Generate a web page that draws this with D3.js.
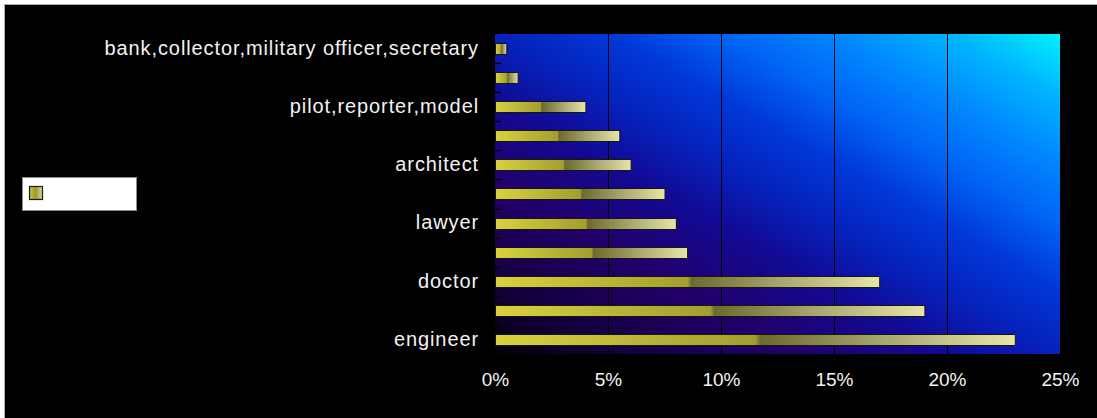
<!DOCTYPE html>
<html>
<head>
<meta charset="utf-8">
<script src="https://cdn.jsdelivr.net/npm/d3@7"></script>
<style>
  html, body { margin: 0; padding: 0; background: #ffffff; }
  svg { display: block; }
  text { font-family: "Liberation Sans", Arial, sans-serif; }
</style>
</head>
<body>
<script>
// Occupation categories, top to bottom (only every other one carries a label)
const categories = [
  "bank,collector,military officer,secretary",
  "",
  "pilot,reporter,model",
  "",
  "architect",
  "",
  "lawyer",
  "",
  "doctor",
  "",
  "engineer"
];
// Share of answers per category, in percent
const shares = [0.5, 1.0, 4.0, 5.5, 6.0, 7.5, 8.0, 8.5, 17.0, 19.0, 23.0];
// Value axis ticks, in percent
const xTicks = [0, 5, 10, 15, 20, 25];

const W = 1097, H = 418;
const plot = { left: 495, right: 1060, top: 34, bottom: 354 };

const svg = d3.select("body").append("svg")
  .attr("width", W).attr("height", H);

const defs = svg.append("defs");

// Diagonal backdrop: dark violet in the lower left to cyan in the upper right
const bg = defs.append("linearGradient")
  .attr("id", "plotBg")
  .attr("x1", 0).attr("y1", 1).attr("x2", 1).attr("y2", 0);
[
  [0.00, "#030008"],
  [0.12, "#140040"],
  [0.27, "#22006c"],
  [0.40, "#120a94"],
  [0.50, "#0622bc"],
  [0.60, "#0038d8"],
  [0.70, "#0064f4"],
  [0.80, "#0088ff"],
  [0.90, "#00b4ff"],
  [1.00, "#00f2ff"]
].forEach(([o, c]) => bg.append("stop").attr("offset", o).attr("stop-color", c));

// Bar fill: bright yellow fading to olive, a dark step at the middle, then cream
const barGrad = defs.append("linearGradient")
  .attr("id", "barFill")
  .attr("x1", 0).attr("y1", 0).attr("x2", 1).attr("y2", 0);
[
  [0.00, "#d8d23e"],
  [0.50, "#a49e30"],
  [0.51, "#6c6a2c"],
  [0.75, "#aaa770"],
  [1.00, "#e8e5a8"]
].forEach(([o, c]) => barGrad.append("stop").attr("offset", o).attr("stop-color", c));

// Legend swatch fill
const swGrad = defs.append("linearGradient")
  .attr("id", "swatchFill")
  .attr("x1", 0).attr("y1", 0).attr("x2", 1).attr("y2", 0);
[
  [0.00, "#c8c23a"],
  [0.50, "#a09a30"],
  [1.00, "#e0dc9c"]
].forEach(([o, c]) => swGrad.append("stop").attr("offset", o).attr("stop-color", c));

// Chart area: black with a thin grey frame
svg.append("rect")
  .attr("x", 4.5).attr("y", 4.5)
  .attr("width", W + 10).attr("height", H + 10)
  .attr("fill", "#000000")
  .attr("stroke", "#a8a8a8").attr("stroke-width", 1);

const x = d3.scaleLinear().domain([0, 25]).range([plot.left, plot.right]);
const y = d3.scaleBand()
  .domain(d3.range(categories.length))
  .range([plot.top, plot.bottom])
  .paddingInner(0.62)
  .paddingOuter(0.31);

// Plot backdrop
svg.append("rect")
  .attr("x", plot.left).attr("y", plot.top)
  .attr("width", plot.right - plot.left).attr("height", plot.bottom - plot.top)
  .attr("fill", "url(#plotBg)");

// Vertical gridlines
svg.append("g")
  .selectAll("line")
  .data(xTicks.filter(t => t > 0 && t < 25))
  .join("line")
  .attr("x1", d => Math.round(x(d)) + 0.5).attr("x2", d => Math.round(x(d)) + 0.5)
  .attr("y1", plot.top).attr("y2", plot.bottom)
  .attr("stroke", "#000000").attr("stroke-width", 1);

// Category tick marks at band boundaries
const step = y.step();
svg.append("g")
  .selectAll("line")
  .data(d3.range(1, categories.length))
  .join("line")
  .attr("x1", plot.left).attr("x2", plot.left + 6)
  .attr("y1", i => Math.round(plot.top + i * step) + 0.5)
  .attr("y2", i => Math.round(plot.top + i * step) + 0.5)
  .attr("stroke", "#000000").attr("stroke-width", 1.5);

// Bars
svg.append("g")
  .selectAll("rect")
  .data(shares)
  .join("rect")
  .attr("x", x(0) + 0.5)
  .attr("y", (d, i) => Math.round(y(i)) + 0.5)
  .attr("width", d => x(d) - x(0))
  .attr("height", Math.round(y.bandwidth()))
  .attr("fill", "url(#barFill)")
  .attr("stroke", "#161616").attr("stroke-width", 1);

// Category labels
const yAxis = d3.axisLeft(y)
  .tickSize(0)
  .tickPadding(16)
  .tickFormat(i => categories[i]);
const gy = svg.append("g")
  .attr("transform", `translate(${plot.left},0)`)
  .call(yAxis);
gy.select(".domain").remove();
gy.selectAll("text")
  .attr("fill", "#f2f2f2")
  .attr("font-size", 20)
  .attr("letter-spacing", "0.9px")
  .attr("font-family", "'Liberation Sans', Arial, sans-serif");

// Value axis labels
const xAxis = d3.axisBottom(x)
  .tickValues(xTicks)
  .tickSize(0)
  .tickPadding(19)
  .tickFormat(d => d + "%");
const gx = svg.append("g")
  .attr("transform", `translate(0,${plot.bottom})`)
  .call(xAxis);
gx.select(".domain").remove();
gx.selectAll("text")
  .attr("fill", "#f2f2f2")
  .attr("font-size", 19)
  .attr("font-family", "'Liberation Sans', Arial, sans-serif");

// Legend box with its swatch
svg.append("rect")
  .attr("x", 22.5).attr("y", 177.5)
  .attr("width", 114).attr("height", 33)
  .attr("fill", "#ffffff")
  .attr("stroke", "#8a8a8a").attr("stroke-width", 1);
svg.append("rect")
  .attr("x", 29.5).attr("y", 186.5)
  .attr("width", 13).attr("height", 13)
  .attr("fill", "url(#swatchFill)")
  .attr("stroke", "#1a1a1a").attr("stroke-width", 1.2);
</script>
</body>
</html>
